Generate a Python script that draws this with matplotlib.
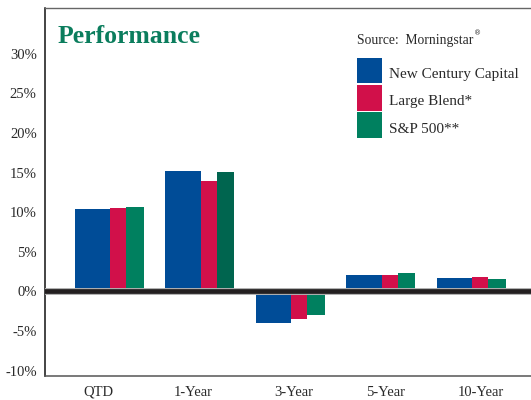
import matplotlib
matplotlib.use("Agg")
import matplotlib.pyplot as plt
from matplotlib.patches import Rectangle
import numpy as np

categories = ["QTD", "1-Year", "3-Year", "5-Year", "10-Year"]
series_names = ["New Century Capital", "Large Blend*", "S&P 500**"]
new_century = [10.4, 15.2, -3.95, 2.0, 1.7]
large_blend = [10.5, 13.9, -3.5, 2.0, 1.85]
sp500 = [10.65, 15.05, -3.0, 2.35, 1.55]
y_ticks = [-10, -5, 0, 5, 10, 15, 20, 25, 30]
y_tick_labels = ["-10%", "-5%", "0%", "5%", "10%", "15%", "20%", "25%", "30%"]

BLUE = "#004C97"
RED = "#D1104A"
GREEN = "#00805F"
GREEN_DARK = "#00654F"
TITLE_GREEN = "#0B7D5D"
TEXT = "#2a2a2a"

W, H = 531, 400
fig = plt.figure(figsize=(W / 100, H / 100), dpi=100)
ax = fig.add_axes([45 / W, 1 - 376 / H, 1 - 45 / W, (376 - 8) / H])

x = np.arange(len(categories))
w_blue, w_red, w_green = 0.39, 0.177, 0.195
left_blue = -0.381
left_red = left_blue + w_blue
left_green = left_red + w_red
green_colors = [GREEN, GREEN_DARK, GREEN, GREEN, GREEN]

ax.bar(x + left_blue, new_century, w_blue, align="edge", color=BLUE, zorder=3, linewidth=0)
ax.bar(x + left_red, large_blend, w_red, align="edge", color=RED, zorder=3, linewidth=0)
ax.bar(x + left_green, sp500, w_green, align="edge", color=green_colors, zorder=3, linewidth=0)

ax.axhline(0, color="#b0b0b0", lw=5.0, zorder=4)
ax.axhline(0, color="#231f20", lw=3.4, zorder=5)

ax.set_xlim(-0.712, 4.658)
ax.set_ylim(-10.69, 35.77)

label_shift = np.array([-0.12, -0.07, 0.04, 0.055, 0.105])
ax.set_xticks(x + label_shift)
ax.set_xticklabels(categories, fontfamily="Liberation Serif", fontsize=10.5, color=TEXT)
ax.set_yticks(y_ticks)
ax.set_yticklabels(y_tick_labels, fontfamily="Liberation Serif", fontsize=10.5, color=TEXT)
ax.tick_params(axis="both", length=0)
ax.tick_params(axis="y", pad=6)
ax.tick_params(axis="x", pad=7)

ax.spines["right"].set_visible(False)
ax.spines["left"].set_color("#111111")
ax.spines["left"].set_linewidth(1.1)
ax.spines["top"].set_color("#666666")
ax.spines["top"].set_linewidth(1.0)
ax.spines["bottom"].set_color("#555555")
ax.spines["bottom"].set_linewidth(1.1)

# Title
fig.text(57.6 / W, 1 - 43 / H, "Performance", fontfamily="Liberation Serif",
         fontweight="bold", fontsize=18.5, color=TITLE_GREEN, va="baseline", ha="left")

# Source
src = fig.text(356.6 / W, 1 - 44 / H, "Source:  Morningstar", fontfamily="Liberation Serif",
               fontsize=9.8, color=TEXT, va="baseline", ha="left")
ax.annotate("®", xy=(1, 1), xycoords=src, xytext=(1, -2), textcoords="offset points",
            fontfamily="DejaVu Sans", fontsize=5, color=TEXT, va="bottom", ha="left",
            annotation_clip=False)

# Legend
leg_colors = [BLUE, RED, GREEN]
for i, (name, c) in enumerate(zip(series_names, leg_colors)):
    top = 57.6 + i * 27.4
    fig.patches.append(Rectangle((356.6 / W, 1 - (top + 25.5) / H), 25.4 / W, 25.5 / H,
                                 transform=fig.transFigure, facecolor=c, edgecolor="none"))
    fig.text(389.4 / W, 1 - (top + 20.5) / H, name, fontfamily="Liberation Serif",
             fontsize=11, color=TEXT, va="baseline", ha="left")

fig.savefig("out.png", dpi=100)
